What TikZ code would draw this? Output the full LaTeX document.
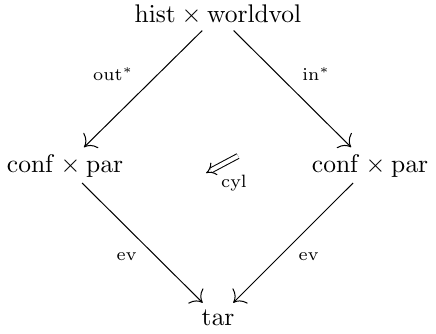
\documentclass[tikz,border=0pt]{standalone}
\usepackage{amsmath}
\usepackage{tikz}
\usetikzlibrary{arrows.meta}

\tikzset{
  obj/.style={inner sep=2pt},
  lbl/.style={font=\scriptsize},
  map/.style={-{Computer Modern Rightarrow[scale=1.6]}, shorten >=1pt},
  twocell/.style={double, double equal sign distance, -{Implies[scale=1.8]}},
}

\begin{document}
\begin{tikzpicture}[x=0.392pt, y=-0.392pt]
  \useasboundingbox (0,0) rectangle (436,333);

  % corners of the square
  \node[obj] (hw)  at (218,15)  {$\mathrm{hist}\times\mathrm{worldvol}$};
  \node[obj] (cpl) at (65,166)  {$\mathrm{conf}\times\mathrm{par}$};
  \node[obj] (cpr) at (370,166) {$\mathrm{conf}\times\mathrm{par}$};
  \node[obj] (tar) at (218,318) {$\mathrm{tar}$};

  % sides
  \draw[map] (hw) -- node[lbl, above left] (outl) {$\mathrm{out}^*$} (cpl);
  \draw[map] (hw) -- node[lbl, above right] (inl) {$\mathrm{in}^*$} (cpr);
  \draw[map] (cpl) -- node[lbl, below left, xshift=1pt] (evl) {$\mathrm{ev}$} (tar);
  \draw[map] (cpr) -- node[lbl, below right, xshift=-1pt] (evr) {$\mathrm{ev}$} (tar);

  % the 2-cell in the middle
  \coordinate (cylS) at (238,156);
  \coordinate (cylE) at (206,173);
  \draw[twocell] (cylS) -- (cylE);
  \node[lbl] (cyl) at (234,183) {$\mathrm{cyl}$};
\end{tikzpicture}
\end{document}
